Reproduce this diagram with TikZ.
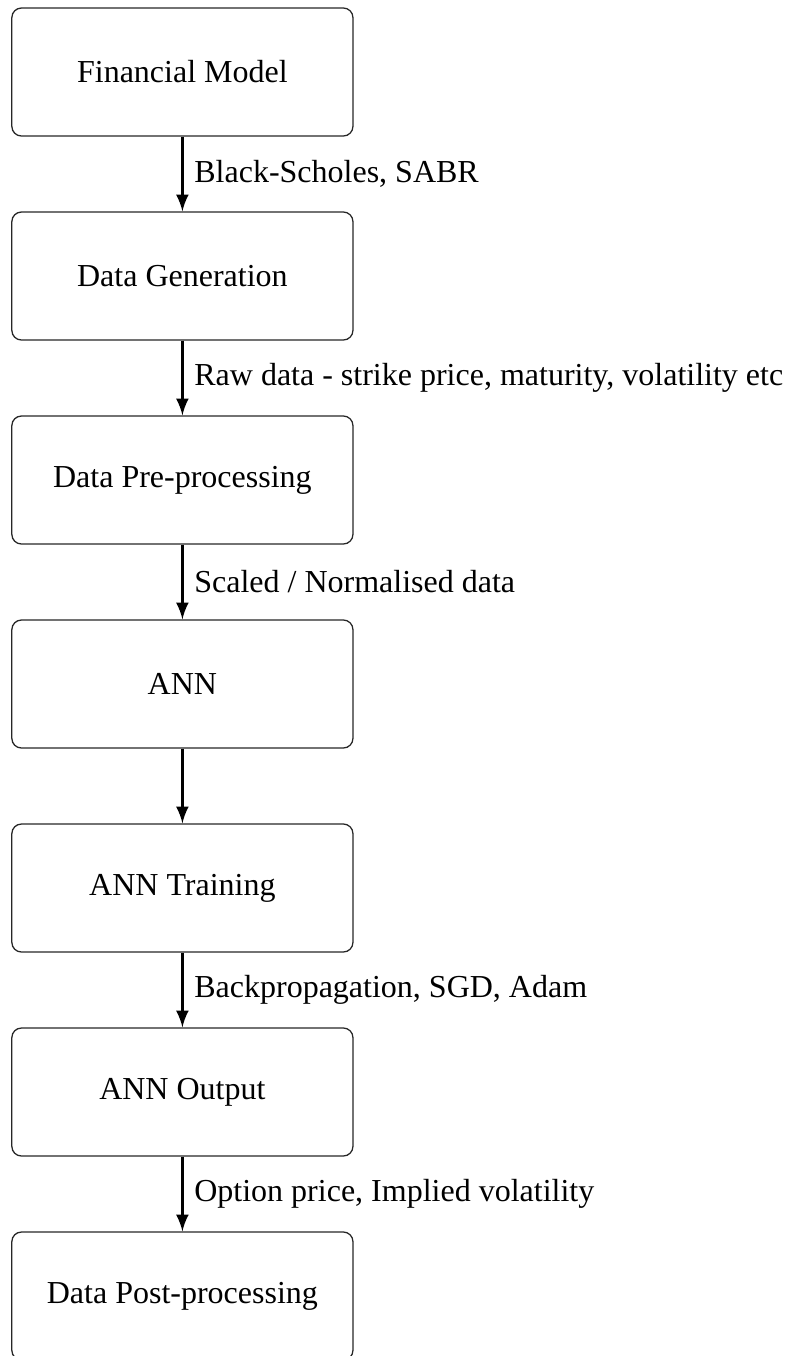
\documentclass[tikz,border=0pt]{standalone}
\usepackage{fontspec}
\setmainfont{Liberation Serif}
\usetikzlibrary{arrows}
\tikzset{
  stage/.style={shape=rectangle,rounded corners=3pt,draw=black!85,thin,
    minimum width=106.6pt,minimum height=40pt,align=center},
  flow/.style={->,>=latex,thick}
}
\begin{document}
\begin{tikzpicture}
            \useasboundingbox (0,0) rectangle (245.3pt,-423.75pt);
            % stages
            \node[stage] (fm) at (57pt,-22.5pt) {Financial Model};
            \node[stage] (gen) at (57pt,-86.25pt) {Data Generation};
            \node[stage] (pre) at (57pt,-150pt) {Data Pre-processing};
            \node[stage] (ann) at (57pt,-213.75pt) {ANN};
            \node[stage] (train) at (57pt,-277.5pt) {ANN Training};
            \node[stage] (out) at (57pt,-341.25pt) {ANN Output};
            \node[stage] (post) at (57pt,-405pt) {Data Post-processing};
            
            % flows
            \path [flow](fm) edge node[right] {Black-Scholes, SABR} (gen);
            \path [flow](gen) edge node[right] {Raw data - strike price, maturity, volatility etc} (pre);
            \path [flow](pre) edge node[right] {Scaled / Normalised data} (ann);
            \path [flow](ann) edge (train);
            \path [flow](train) edge node[right] {Backpropagation, SGD, Adam} (out);
            \path [flow](out) edge node[right] {Option price, Implied volatility} (post);
        \end{tikzpicture}
\end{document}
